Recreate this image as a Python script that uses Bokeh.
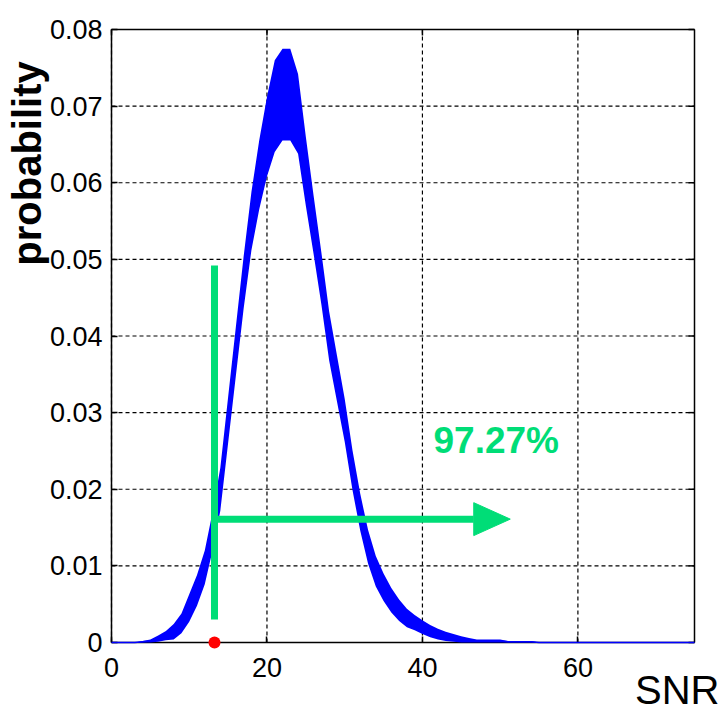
import numpy as np
from bokeh.plotting import figure
from bokeh.models import FixedTicker, CustomJSTickFormatter, Label, ColumnDataSource, Range1d
from bokeh.embed import file_html
from bokeh.resources import INLINE

# ---- data ----
snr = list(range(0, 76))
prob_mean = [0, 0, 0, 0, 0.0001, 0.0002, 0.0005, 0.0009, 0.0014, 0.0025,
             0.0045, 0.0068, 0.0098, 0.0145, 0.020, 0.029, 0.038, 0.047, 0.055, 0.061,
             0.066, 0.0700, 0.0715, 0.0715, 0.069, 0.0615, 0.0545, 0.0475, 0.040, 0.0345,
             0.029, 0.0225, 0.017, 0.0125, 0.0093, 0.0072, 0.0055, 0.0042, 0.0032, 0.0026,
             0.002, 0.0015, 0.0011, 0.0008, 0.0006, 0.0004, 0.0003, 0.0002, 0.0002, 0.0002,
             0.0002, 0.0001, 0.0001, 0.0001, 0.0001] + [0] * 21
prob_spread = [0, 0, 0, 0, 0.0001, 0.0002, 0.0004, 0.0006, 0.001, 0.0013,
               0.0018, 0.002, 0.0022, 0.0025, 0.0028, 0.003, 0.0032, 0.0034, 0.0038, 0.0045,
               0.0052, 0.006, 0.006, 0.006, 0.0052, 0.0045, 0.0038, 0.0034, 0.0032, 0.003,
               0.0028, 0.0026, 0.0024, 0.0022, 0.002, 0.0018, 0.0016, 0.0014, 0.0012, 0.001,
               0.0009, 0.0008, 0.0007, 0.0006, 0.0005, 0.0004, 0.0003, 0.0002, 0.0002, 0.0002,
               0.0002, 0.0001, 0.0001, 0.0001, 0.0001] + [0] * 21

x_ticks = [0, 20, 40, 60]
y_ticks = [0, 0.01, 0.02, 0.03, 0.04, 0.05, 0.06, 0.07, 0.08]
X_MAX = 75
Y_MAX = 0.08

threshold_snr = 13.25      # green vertical marker / red dot
marker_top = 0.0492
marker_bottom = 0.0030
arrow_y = 0.0161
arrow_head_base = 46.6
arrow_tip = 51.3
arrow_head_half = 0.00215
percent_text = "97.27%"

GREEN = "#00DD77"
BLUE = "#0000FF"

# ---- layout (pixels of the page) ----
W, H = 725, 711
PX_LEFT, PX_RIGHT, PX_TOP, PX_BOTTOM = 111, 694, 29, 642
TICK_PX = 6
xs = (PX_RIGHT - PX_LEFT) / X_MAX
ys = (PX_BOTTOM - PX_TOP) / Y_MAX


def dx(px):
    return (px - PX_LEFT) / xs


def dy(py):
    return (PX_BOTTOM - py) / ys


mean = np.array(prob_mean)
spread = np.array(prob_spread)
src = ColumnDataSource(dict(snr=snr, mean=mean,
                            lo=np.clip(mean - spread, 0, None),
                            hi=mean + spread))

p = figure(width=W, height=H, x_range=Range1d(dx(0), dx(W)), y_range=Range1d(dy(H), dy(0)),
           output_backend="svg", toolbar_location=None,
           min_border_left=0, min_border_right=0, min_border_top=0, min_border_bottom=0)
p.background_fill_color = "white"
p.border_fill_color = "white"
p.outline_line_color = None
p.xgrid.visible = False
p.ygrid.visible = False

xt = FixedTicker(ticks=x_ticks)
yt = FixedTicker(ticks=y_ticks)
fmt = CustomJSTickFormatter(code="return tick == 0 ? '0' : tick.toFixed(2);")

for ax in p.xaxis:
    ax.ticker = xt
    ax.fixed_location = 0
    ax.bounds = (0, X_MAX)
    ax.major_label_standoff = 15
for ax in p.yaxis:
    ax.ticker = yt
    ax.formatter = fmt
    ax.fixed_location = 0
    ax.bounds = (0, Y_MAX)
    ax.major_label_standoff = 9

for ax in list(p.xaxis) + list(p.yaxis):
    ax.axis_line_color = "black"
    ax.axis_line_width = 1.5
    ax.major_tick_in = TICK_PX
    ax.major_tick_out = 0
    ax.major_tick_line_width = 1.5
    ax.minor_tick_line_color = None
    ax.major_label_text_font = "Liberation Sans"
    ax.major_label_text_font_size = "27px"
    ax.major_label_text_color = "black"
    ax.level = "underlay"

# dashed grid inside the box
p.segment(x0=x_ticks, y0=[0] * len(x_ticks), x1=x_ticks, y1=[Y_MAX] * len(x_ticks),
          line_color="black", line_width=1.2, line_dash="4 3", level="underlay")
p.segment(x0=[0] * len(y_ticks), y0=y_ticks, x1=[X_MAX] * len(y_ticks), y1=y_ticks,
          line_color="black", line_width=1.2, line_dash="4 3", level="underlay")

# top and right sides of the box, with inward ticks
p.segment(x0=[0, X_MAX], y0=[Y_MAX, 0], x1=[X_MAX, X_MAX], y1=[Y_MAX, Y_MAX],
          line_color="black", line_width=1.5, level="underlay")
p.segment(x0=x_ticks, y0=[Y_MAX] * len(x_ticks), x1=x_ticks,
          y1=[Y_MAX - TICK_PX / ys] * len(x_ticks),
          line_color="black", line_width=1.5, level="underlay")
p.segment(x0=[X_MAX] * len(y_ticks), y0=y_ticks, x1=[X_MAX - TICK_PX / xs] * len(y_ticks),
          y1=y_ticks, line_color="black", line_width=1.5, level="underlay")

# distribution
p.varea(x="snr", y1="lo", y2="hi", source=src, fill_color=BLUE, fill_alpha=1.0)
p.line(x="snr", y="mean", source=src, line_color=BLUE, line_width=1.5)

# green marker and arrow
p.segment(x0=[threshold_snr], y0=[marker_bottom], x1=[threshold_snr], y1=[marker_top],
          line_color=GREEN, line_width=7)
p.segment(x0=[threshold_snr], y0=[arrow_y], x1=[arrow_head_base], y1=[arrow_y],
          line_color=GREEN, line_width=7)
p.patch(x=[arrow_head_base, arrow_tip, arrow_head_base],
        y=[arrow_y - arrow_head_half, arrow_y, arrow_y + arrow_head_half],
        fill_color=GREEN, line_color=GREEN, line_width=1)

# red dot on the axis at the threshold
p.scatter(x=[threshold_snr], y=[0], size=12, marker="circle", fill_color="red",
          line_color=None, level="overlay")

# texts (page-pixel anchors converted to data)
p.add_layout(Label(x=dx(433), y=dy(455 - 15), text=percent_text, text_color=GREEN,
                   text_font="Liberation Sans", text_font_size="37px",
                   text_font_style="bold", text_align="left",
                   text_baseline="alphabetic"))
p.add_layout(Label(x=dx(719), y=dy(705 - 16), text="SNR",
                   text_font="Liberation Sans", text_font_size="40px",
                   text_color="black", text_align="right", text_baseline="alphabetic"))
p.add_layout(Label(x=dx(26), y=dy(163), text="probability",
                   text_font="Liberation Sans", text_font_size="40px",
                   text_font_style="bold", text_color="black", angle=np.pi / 2,
                   text_align="center", text_baseline="middle"))

open("out.html", "w").write(file_html(p, INLINE))
